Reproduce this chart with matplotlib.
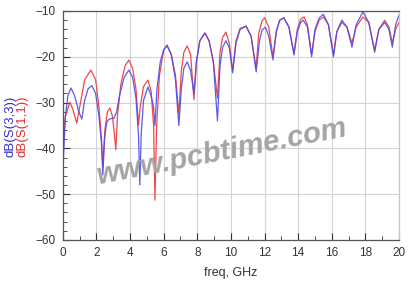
import matplotlib
matplotlib.use("Agg")
import matplotlib.pyplot as plt
import numpy as np

plt.rcParams['font.family'] = ['Liberation Sans', 'DejaVu Sans']

# freq (GHz), dB(S(3,3)) - blue trace
f33 = [0.0, 0.15, 0.3, 0.48, 0.7, 0.95, 1.13, 1.3, 1.5, 1.73, 1.95, 2.15, 2.3, 2.38,
       2.48, 2.6, 2.7, 2.85, 3.05, 3.2, 3.4, 3.65, 3.93, 4.15, 4.35, 4.5, 4.58, 4.66,
       4.8, 5.06, 5.25, 5.4, 5.48, 5.6, 5.8, 6.0, 6.2, 6.45, 6.7, 6.9, 7.05, 7.2, 7.4,
       7.6, 7.8, 7.95, 8.15, 8.45, 8.7, 8.95, 9.2, 9.35, 9.5, 9.7, 9.9, 10.1, 10.3,
       10.55, 10.9, 11.2, 11.5, 11.7, 11.85, 12.05, 12.25, 12.5, 12.7, 12.9, 13.15,
       13.45, 13.75, 13.95, 14.15, 14.3, 14.55, 14.8, 15.0, 15.25, 15.5, 15.8, 16.1,
       16.3, 16.6, 16.9, 17.2, 17.45, 17.85, 18.2, 18.55, 18.8, 19.15, 19.4, 19.6,
       19.8, 20.0]
s33 = [-45, -33, -28.5, -26.8, -28.5, -32, -33.6, -29.5, -27, -26.3, -28, -33, -39, -45.8,
       -38, -34.5, -33.8, -33.5, -33.4, -32, -28, -24.5, -22.9, -24.5, -29, -37, -48, -37,
       -29.5, -26.6, -28.5, -31, -35, -27, -21, -18.5, -17.6, -19.5, -25, -35, -27, -22.5, -21.1,
       -23, -28, -21, -16.5, -14.8, -16.5, -21, -34, -22, -18, -16.5, -18, -23.5, -17,
       -14, -13.3, -15.5, -23.3, -16.5, -14.2, -13.5, -15.5, -20.7, -14.5, -12, -11.5,
       -13.5, -19.6, -14.5, -12.5, -12, -13.5, -20, -14, -11.5, -10.7, -13, -20,
       -14.5, -12, -13.5, -17.9, -13, -10.2, -12.5, -19, -14, -12.5, -14, -17.9,
       -13, -10.9]

# freq (GHz), dB(S(1,1)) - red trace
f11 = [0.0, 0.15, 0.42, 0.6, 0.83, 1.0, 1.3, 1.67, 1.95, 2.15, 2.3, 2.38, 2.5, 2.65,
       2.8, 2.95, 3.1, 3.15, 3.25, 3.45, 3.7, 3.93, 4.15, 4.35, 4.5, 4.6, 4.8, 5.06,
       5.25, 5.4, 5.48, 5.58, 5.75, 6.0, 6.2, 6.45, 6.7, 6.9, 7.05, 7.2, 7.4, 7.6, 7.8,
       7.95, 8.15, 8.45, 8.7, 8.95, 9.2, 9.35, 9.5, 9.7, 9.9, 10.1, 10.3, 10.55, 10.9,
       11.2, 11.5, 11.65, 11.85, 12.0, 12.25, 12.5, 12.7, 12.9, 13.15, 13.45, 13.75,
       13.95, 14.15, 14.35, 14.55, 14.8, 15.0, 15.25, 15.5, 15.8, 16.1, 16.3, 16.6,
       16.9, 17.2, 17.45, 17.85, 18.2, 18.55, 18.8, 19.15, 19.4, 19.6, 19.8, 20.0]
s11 = [-40, -33, -29.9, -31.5, -34.5, -31, -25, -22.9, -25, -31, -38, -44, -36, -32,
       -31.2, -33, -38, -40.3, -33, -26, -22, -20.7, -22.5, -27, -34.9, -31, -26.5, -25.1,
       -27.5, -35, -51.3, -35, -24, -18.5, -17.4, -19.5, -24, -32.5, -23, -19, -17.6, -19.5, -29.4,
       -21, -16.5, -14.8, -16.5, -21, -29, -19, -15.8, -14.6, -17, -23, -16.5, -13.8, -13.3,
       -15.5, -22.5, -15, -12.2, -11.5, -13.5, -20, -14.5, -12, -11.5, -13.5, -19.2,
       -14, -11.8, -11.3, -13, -19.5, -14.5, -12, -11.3, -13, -19.5, -14.5, -12.5,
       -13.5, -17, -13.5, -11.3, -12.5, -18.5, -14, -12, -13.5, -17, -14, -12.5]

fig = plt.figure(figsize=(4.08, 2.97), dpi=100)
ax = fig.add_axes([0.154, 0.192, 0.824, 0.771])

ax.plot(f11, s11, color='#f04848', lw=0.9)
ax.plot(f33, s33, color='#4a4ae8', lw=0.9, alpha=0.9)

ax.set_xlim(0, 20)
ax.set_ylim(-60, -10)
ax.set_xticks(np.arange(0, 21, 2))
ax.set_xticks(np.arange(0, 21, 1), minor=True)
ax.set_yticks(np.arange(-60, -9, 10))
ax.set_yticks(np.arange(-60, -9, 2), minor=True)
ax.grid(True, which='major', color='#d4d4d4', lw=0.8)
ax.tick_params(which='both', direction='in', labelsize=8.5, colors='#333333', pad=5)
ax.tick_params(which='major', length=5)
ax.tick_params(which='minor', length=3)
for side in ['left', 'bottom', 'top']:
    ax.spines[side].set_color('#555555')
ax.spines['right'].set_color('#c8c8c8')
for s in ax.spines.values():
    s.set_linewidth(0.9)

ax.set_xlabel('freq, GHz', fontsize=9, color='#333333', labelpad=6)

fig.text(0.025, 0.575, 'dB(S(3,3))', rotation=90, color='#3030d0', fontsize=9.5,
         ha='center', va='center')
fig.text(0.055, 0.575, 'dB(S(1,1))', rotation=90, color='#e03030', fontsize=9.5,
         ha='center', va='center')

fig.text(0.545, 0.49, 'www.pcbtime.com', rotation=11, color='#a4a4a4', fontsize=21,
         fontweight='bold', fontstyle='italic', ha='center', va='center')

fig.savefig('out.png', dpi=100)
